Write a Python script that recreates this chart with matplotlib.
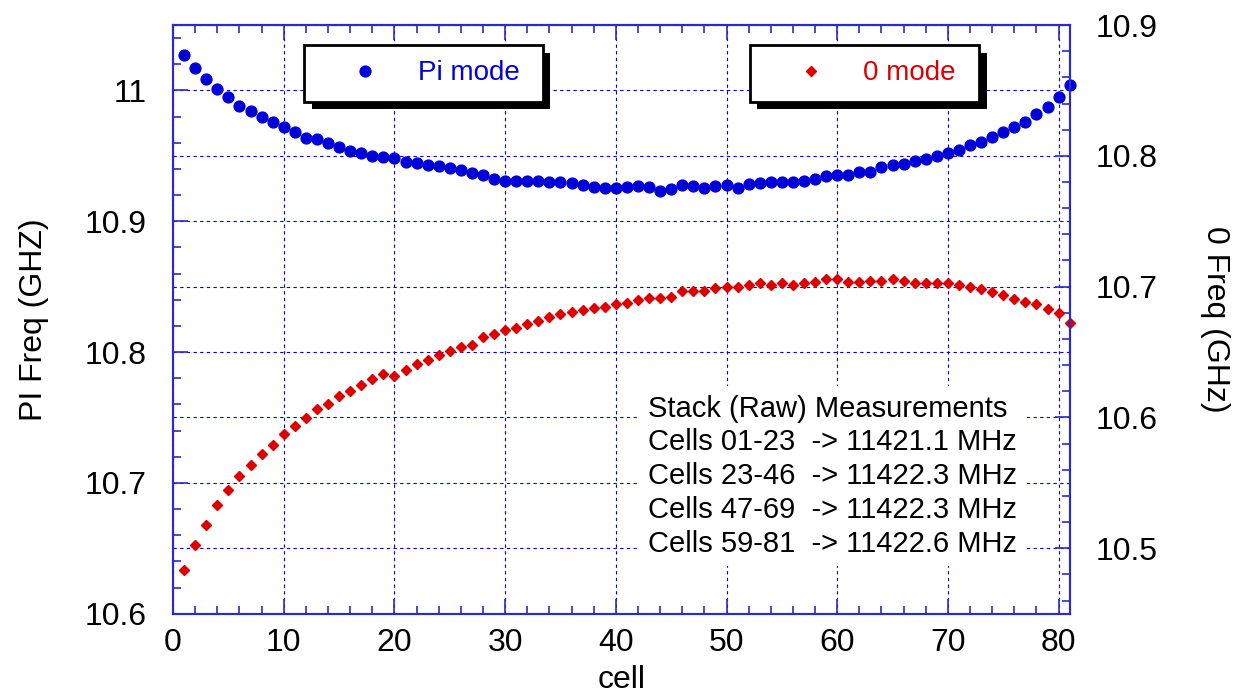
import matplotlib
matplotlib.use('Agg')
import matplotlib.pyplot as plt
import matplotlib.patheffects as pe
from matplotlib.ticker import MultipleLocator, FormatStrFormatter

plt.rcParams['font.family'] = ['Liberation Sans', 'DejaVu Sans']

cells = list(range(1, 82))

pi_freq = [11.027, 11.017, 11.009, 11.001, 10.995, 10.988, 10.984, 10.980, 10.976, 10.972,
           10.968, 10.964, 10.963, 10.960, 10.957, 10.954, 10.952, 10.950, 10.949, 10.948,
           10.9455, 10.9445, 10.943, 10.942, 10.941, 10.939, 10.937, 10.935, 10.932, 10.931,
           10.931, 10.931, 10.931, 10.930, 10.930, 10.929, 10.9275, 10.9265, 10.9255, 10.9255,
           10.9258, 10.9266, 10.9258, 10.9235, 10.9245, 10.9276, 10.9266, 10.9253, 10.9266, 10.9276,
           10.9253, 10.9287, 10.9292, 10.930, 10.930, 10.930, 10.931, 10.9325, 10.9343, 10.935,
           10.935, 10.9378, 10.938, 10.9412, 10.9427, 10.9437, 10.9458, 10.9476, 10.950, 10.9519,
           10.9547, 10.958, 10.9606, 10.9645, 10.9685, 10.9721, 10.976, 10.9816, 10.9872, 10.9952,
           11.0041]

zero_freq = [10.4835, 10.5027, 10.5178, 10.5331, 10.5449, 10.5551, 10.5638, 10.5722, 10.5791, 10.5876,
             10.5934, 10.5995, 10.6062, 10.6103, 10.6162, 10.6205, 10.6246, 10.6292, 10.6333, 10.6320,
             10.6364, 10.6405, 10.6436, 10.6474, 10.6507, 10.6540, 10.6553, 10.6614, 10.6635, 10.6666,
             10.6683, 10.6714, 10.6735, 10.6768, 10.6791, 10.6808, 10.6819, 10.6837, 10.6843, 10.6867,
             10.6877, 10.6896, 10.6911, 10.6911, 10.6923, 10.6969, 10.6969, 10.6969, 10.6990, 10.6998,
             10.6995, 10.7010, 10.7026, 10.7015, 10.7026, 10.7015, 10.7026, 10.7036, 10.7057, 10.7057,
             10.7036, 10.7036, 10.7046, 10.7046, 10.7057, 10.7046, 10.7026, 10.7026, 10.7026, 10.7026,
             10.7010, 10.6998, 10.6980, 10.6957, 10.6936, 10.6906, 10.6885, 10.6865, 10.6827, 10.6796,
             10.6724]

note_lines = ['Stack (Raw) Measurements',
              'Cells 01-23  -> 11421.1 MHz',
              'Cells 23-46  -> 11422.3 MHz',
              'Cells 47-69  -> 11422.3 MHz',
              'Cells 59-81  -> 11422.6 MHz']

blue = '#0000d8'
red = '#dd0000'
axis_blue = '#2a2ad0'
fs = 23

fig = plt.figure(figsize=(12.54, 6.95), dpi=100)
ax1 = fig.add_subplot(111)
fig.subplots_adjust(left=0.138, right=0.853, bottom=0.117, top=0.964)
ax2 = ax1.twinx()

pi_line, = ax1.plot(cells, pi_freq, 'o', color=blue, markersize=7.8, clip_on=False,
                    label='Pi mode ')
zero_line, = ax2.plot(cells, zero_freq, 'D', color=red, markersize=5.4, clip_on=False,
                      label='0 mode ')

ax1.set_xlim(0, 81)
ax1.set_ylim(10.6, 11.05)
ax2.set_ylim(10.45, 10.9)

ax1.xaxis.set_major_locator(MultipleLocator(10))
ax1.xaxis.set_minor_locator(MultipleLocator(2))
for ax in (ax1, ax2):
    ax.yaxis.set_major_locator(MultipleLocator(0.1))
    ax.yaxis.set_minor_locator(MultipleLocator(0.02))
    ax.yaxis.set_major_formatter(FormatStrFormatter('%g'))
    for sp in ax.spines.values():
        sp.set_color(axis_blue)
        sp.set_linewidth(1.5)

ax1.tick_params(which='both', direction='in', colors=axis_blue, labelcolor='black',
                labelsize=fs, top=True, right=False, pad=10)
ax1.tick_params(axis='y', which='both', pad=19)
ax1.tick_params(which='major', length=11, width=1.2)
ax1.tick_params(which='minor', length=6, width=1.2)
ax2.tick_params(which='both', direction='in', colors=axis_blue, labelcolor='black',
                labelsize=fs, pad=19)
ax2.tick_params(which='major', length=11, width=1.2)
ax2.tick_params(which='minor', length=6, width=1.2)

grid_kw = dict(color=blue, linestyle=(0, (3, 3)), linewidth=0.8)
ax1.grid(True, which='major', **grid_kw)
ax2.grid(True, which='major', axis='y', **grid_kw)

ax1.set_xlabel('cell', fontsize=fs, labelpad=5)
ax1.set_ylabel('PI Freq (GHZ)', fontsize=fs, labelpad=26)
ax2.set_ylabel('0 Freq (GHz)', fontsize=fs, rotation=270, labelpad=52)

shadow = [pe.SimplePatchShadow(offset=(5.5, -5.5), shadow_rgbFace='black', alpha=1.0),
          pe.Normal()]
leg_kw = dict(loc='upper left', fontsize=20, frameon=True, fancybox=False, borderaxespad=0,
              borderpad=0.55, handlelength=3.3, handletextpad=0.25, framealpha=1,
              edgecolor='black', numpoints=1)
leg1 = ax2.legend(handles=[pi_line], bbox_to_anchor=(0.146, 0.966), labelcolor=blue, **leg_kw)
leg1.get_frame().set_linewidth(2)
leg1.get_frame().set_path_effects(shadow)
ax2.add_artist(leg1)
leg2 = ax2.legend(handles=[zero_line], bbox_to_anchor=(0.643, 0.966), labelcolor=red, **leg_kw)
leg2.get_frame().set_linewidth(2)
leg2.get_frame().set_path_effects(shadow)

ax2.text(0.530, 0.372, '\n'.join(note_lines), transform=ax2.transAxes, fontsize=21,
         va='top', ha='left', linespacing=1.26, zorder=10,
         bbox=dict(facecolor='white', edgecolor='none', pad=6))

fig.savefig('out.png', dpi=100)
